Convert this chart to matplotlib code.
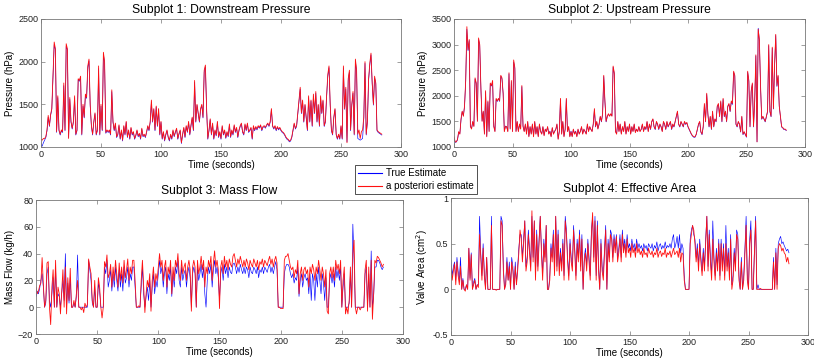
import numpy as np
import matplotlib
matplotlib.use("Agg")
import matplotlib.pyplot as plt

plt.rcParams['font.family'] = ['Liberation Sans', 'DejaVu Sans']

# ---------------- data (1 sample per second) ----------------
down_est = [
 1090, 1080, 1100, 1100, 1120, 1200, 1370, 1250, 1380, 1450,
 1850, 2230, 2150, 1180, 1600, 1200, 1150, 1200, 1180, 1750,
 1200, 2210, 2150, 1100, 1580, 1300, 1220, 1300, 1600, 1150,
 1200, 1800, 1780, 1830, 1150, 1500, 1350, 1620, 1580, 1950,
 2030, 1500, 1250, 1150, 1300, 1400, 1150, 1200, 1950, 1150,
 1500, 1200, 2110, 2000, 1170, 1200, 1180, 1200, 1150, 1670,
 1300, 1200, 1280, 1120, 1150, 1260, 1100, 1200, 1080, 1250,
 1150, 1300, 1120, 1200, 1100, 1230, 1150, 1180, 1100, 1140,
 1200, 1130, 1160, 1100, 1220, 1130, 1150, 1120, 1180, 1250,
 1200, 1300, 1550, 1300, 1450, 1200, 1480, 1250, 1450, 1150,
 1300, 1100, 1180, 1080, 1150, 1200, 1120, 1080, 1150, 1100,
 1200, 1130, 1180, 1220, 1100, 1160, 1200, 1050, 1150, 1230,
 1120, 1250, 1180, 1300, 1150, 1260, 1350, 1200, 1780, 1300,
 1500, 1400, 1300, 1450, 1500, 1350, 1900, 1960, 1450, 1100,
 1200, 1330, 1150, 1280, 1100, 1200, 1140, 1300, 1120, 1180,
 1100, 1250, 1150, 1200, 1110, 1180, 1130, 1270, 1120, 1200,
 1150, 1260, 1180, 1230, 1120, 1200, 1250, 1280, 1180, 1150,
 1270, 1200, 1280, 1180, 1200, 1230, 1100, 1250, 1200, 1240,
 1210, 1250, 1230, 1260, 1200, 1240, 1250, 1230, 1260, 1280,
 1250, 1300, 1450, 1250, 1220, 1250, 1200, 1240, 1210, 1230,
 1200, 1180, 1170, 1150, 1120, 1100, 1090, 1070, 1080, 1120,
 1200, 1280, 1220, 1250, 1400, 1550, 1700, 1400, 1550, 1300,
 1500, 1350, 1200, 1600, 1300, 1550, 1250, 1620, 1400, 1650,
 1300, 1500, 1250, 1600, 1400, 1550, 1250, 1300, 1600, 1850,
 1950, 1500, 1200, 1150, 1350, 1450, 1150, 1100, 1150, 1100,
 1250, 1100, 1950, 1450, 1700, 1050, 1800, 1900, 1200, 1500,
 1650, 1150, 2030, 1900, 1150, 1200, 1100, 1180, 1200, 1350,
 2000, 1150, 1300, 1800, 1980, 2100, 1750, 1500, 1830, 1750,
 1200, 1180, 1170, 1160, 1150]

down_true = [
 1020, 1010, 1050, 1080, 1110, 1190, 1350, 1240, 1370, 1440,
 1830, 2200, 2140, 1170, 1580, 1190, 1140, 1190, 1170, 1720,
 1190, 2180, 2140, 1110, 1560, 1290, 1210, 1290, 1580, 1140,
 1190, 1790, 1770, 1820, 1140, 1480, 1340, 1600, 1570, 1930,
 2010, 1480, 1240, 1140, 1290, 1390, 1140, 1190, 1920, 1140,
 1480, 1190, 2090, 1980, 1160, 1190, 1170, 1190, 1140, 1650,
 1290, 1190, 1270, 1110, 1140, 1250, 1090, 1190, 1070, 1240,
 1140, 1290, 1110, 1190, 1090, 1220, 1140, 1170, 1090, 1130,
 1190, 1120, 1150, 1090, 1210, 1120, 1140, 1110, 1170, 1240,
 1190, 1290, 1530, 1290, 1440, 1190, 1470, 1240, 1440, 1140,
 1290, 1090, 1170, 1070, 1140, 1190, 1110, 1070, 1140, 1090,
 1190, 1120, 1170, 1210, 1090, 1150, 1190, 1040, 1140, 1220,
 1110, 1240, 1170, 1290, 1140, 1250, 1340, 1190, 1760, 1290,
 1490, 1390, 1290, 1440, 1490, 1340, 1880, 1940, 1440, 1090,
 1190, 1320, 1140, 1270, 1090, 1190, 1130, 1290, 1110, 1170,
 1090, 1240, 1140, 1190, 1100, 1170, 1120, 1260, 1110, 1190,
 1140, 1250, 1170, 1220, 1110, 1190, 1240, 1270, 1170, 1140,
 1260, 1190, 1270, 1170, 1190, 1220, 1090, 1240, 1190, 1230,
 1200, 1240, 1220, 1250, 1190, 1230, 1240, 1220, 1250, 1270,
 1240, 1290, 1440, 1240, 1210, 1240, 1190, 1230, 1200, 1220,
 1190, 1170, 1160, 1140, 1110, 1090, 1080, 1060, 1070, 1110,
 1190, 1270, 1210, 1240, 1390, 1540, 1680, 1390, 1540, 1290,
 1490, 1340, 1190, 1580, 1290, 1540, 1240, 1600, 1390, 1630,
 1290, 1490, 1240, 1580, 1390, 1540, 1240, 1290, 1580, 1830,
 1930, 1490, 1190, 1140, 1340, 1440, 1140, 1090, 1140, 1090,
 1240, 1090, 1930, 1440, 1680, 1060, 1780, 1880, 1190, 1490,
 1630, 1140, 2010, 1880, 1100, 1090, 1080, 1090, 1100, 1330,
 1980, 1140, 1290, 1780, 1960, 2080, 1740, 1490, 1810, 1740,
 1190, 1170, 1160, 1150, 1140]

up_est = [
 1200, 1100, 1100, 1150, 1300, 1250, 1550, 1700, 1600, 1800,
 2300, 3350, 2900, 3100, 1400, 1350, 1500, 1400, 2350, 2250,
 1500, 3130, 3000, 2150, 1500, 1700, 1250, 2100, 1200, 1900,
 1300, 2250, 2200, 2300, 1400, 1300, 1950, 1900, 1950, 1900,
 2400, 2350, 2050, 1300, 1400, 1400, 1300, 2450, 1350, 2300,
 1300, 2700, 2550, 1300, 1500, 1300, 1450, 1350, 2200, 1400,
 1300, 1450, 1250, 1500, 1200, 1400, 1250, 1450, 1200, 1500,
 1250, 1400, 1200, 1450, 1300, 1250, 1400, 1220, 1350, 1300,
 1400, 1250, 1300, 1200, 1380, 1250, 1300, 1350, 1450, 1150,
 1300, 1950, 1250, 1500, 1200, 1350, 1950, 1300, 1400, 1200,
 1300, 1200, 1350, 1250, 1300, 1200, 1350, 1250, 1300, 1400,
 1250, 1350, 1300, 1250, 1450, 1300, 1400, 1350, 1300, 1450,
 1750, 1400, 1500, 1350, 1450, 1600, 1500, 1650, 2400, 1900,
 1500, 1600, 1650, 1600, 1650, 1600, 2580, 2450, 1300, 1250,
 1500, 1300, 1450, 1250, 1400, 1300, 1500, 1250, 1400, 1300,
 1450, 1250, 1400, 1300, 1450, 1280, 1350, 1300, 1400, 1300,
 1350, 1450, 1300, 1400, 1350, 1500, 1300, 1450, 1350, 1500,
 1550, 1400, 1350, 1500, 1450, 1350, 1450, 1400, 1300, 1500,
 1450, 1350, 1500, 1400, 1450, 1500, 1350, 1450, 1400, 1500,
 1600, 1700, 1450, 1400, 1500, 1450, 1400, 1500, 1450, 1480,
 1400, 1350, 1300, 1250, 1220, 1200, 1200, 1250, 1350, 1450,
 1500, 1300, 1250, 1400, 1850, 1500, 2050, 1650, 1400, 1600,
 1350, 1700, 1400, 1550, 1500, 1800, 1850, 1600, 1900, 1500,
 1950, 1600, 1700, 1500, 1800, 1850, 1700, 1900, 1850, 2480,
 2400, 1450, 1400, 1500, 1450, 1300, 1600, 1250, 1300, 1250,
 1200, 2480, 2300, 1400, 2100, 2250, 1400, 1900, 2800, 1100,
 3300, 3100, 2200, 1550, 1600, 1550, 1500, 1600, 1700, 3000,
 1700, 1600, 2950, 1750, 2600, 3200, 2200, 2400, 1800, 1600,
 1400, 1380, 1350, 1350, 1330]

up_true = [
 1180, 1090, 1100, 1140, 1290, 1260, 1530, 1690, 1610, 1790,
 2280, 3300, 2880, 3080, 1410, 1360, 1490, 1410, 2330, 2240,
 1510, 3100, 2980, 2140, 1510, 1690, 1260, 2080, 1210, 1880,
 1310, 2230, 2190, 2280, 1410, 1310, 1930, 1890, 1940, 1890,
 2380, 2330, 2040, 1310, 1410, 1390, 1310, 2430, 1360, 2280,
 1310, 2660, 2530, 1310, 1490, 1310, 1440, 1360, 2180, 1410,
 1310, 1440, 1260, 1490, 1210, 1390, 1260, 1440, 1210, 1490,
 1260, 1390, 1210, 1440, 1310, 1260, 1390, 1230, 1340, 1310,
 1390, 1260, 1310, 1210, 1370, 1260, 1310, 1340, 1440, 1160,
 1310, 1930, 1260, 1490, 1210, 1340, 1930, 1310, 1390, 1210,
 1310, 1210, 1340, 1260, 1310, 1210, 1340, 1260, 1310, 1390,
 1260, 1340, 1310, 1260, 1440, 1310, 1390, 1340, 1310, 1440,
 1730, 1390, 1490, 1360, 1440, 1590, 1490, 1640, 2380, 1880,
 1490, 1590, 1640, 1610, 1640, 1610, 2560, 2430, 1310, 1260,
 1490, 1310, 1440, 1260, 1390, 1310, 1490, 1260, 1390, 1310,
 1440, 1260, 1390, 1310, 1440, 1290, 1340, 1310, 1390, 1310,
 1340, 1440, 1310, 1390, 1340, 1490, 1310, 1440, 1340, 1490,
 1540, 1390, 1340, 1490, 1440, 1340, 1440, 1390, 1310, 1490,
 1440, 1340, 1490, 1390, 1440, 1490, 1340, 1440, 1390, 1490,
 1590, 1690, 1440, 1390, 1490, 1440, 1390, 1490, 1440, 1470,
 1390, 1340, 1290, 1240, 1210, 1190, 1190, 1240, 1340, 1440,
 1490, 1290, 1240, 1390, 1830, 1490, 2030, 1640, 1390, 1590,
 1340, 1690, 1390, 1540, 1490, 1790, 1830, 1590, 1880, 1490,
 1930, 1590, 1690, 1490, 1790, 1830, 1690, 1880, 1830, 2460,
 2380, 1440, 1390, 1490, 1440, 1290, 1590, 1240, 1290, 1240,
 1190, 2460, 2280, 1390, 2080, 2230, 1390, 1880, 2780, 1100,
 3320, 3080, 2180, 1540, 1590, 1540, 1490, 1590, 1690, 2980,
 1690, 1590, 2930, 1740, 2580, 3180, 2180, 2380, 1790, 1590,
 1390, 1370, 1340, 1340, 1320]

flow_est = [
 15, 10, 12, 16, 18, 37, 17, 0, 5, 33,
 34, 0, -13, 15, 28, 0, 35, 0, 15, 10,
 -5, 12, 28, 0, 30, -5, 22, 5, 29, 0,
 0, 5, 0, 10, 20, 0, 0, -2, 0, -4,
 3, 0, 2, 36, 30, 25, 5, 0, 20, 0,
 0, 22, 15, 0, -8, 0, 34, 30, 39, 22,
 25, 32, 15, 30, 20, 35, 25, 15, 33, 20,
 30, 18, 35, 22, 28, 36, 20, 30, 25, 35,
 35, 20, 0, 0, 1, 0, 20, 35, 15, -4,
 10, 20, 15, 25, -3, 20, 30, 15, 25, 20,
 30, 40, 30, 35, 20, 30, 35, 15, 30, 25,
 35, 10, 30, 20, 35, 30, 40, 25, 20, 35,
 25, 30, 33, 20, 30, 35, 28, -3, 30, 35,
 30, 0, 35, 25, 30, 38, 28, 35, 15, 30,
 25, 35, 30, 38, 20, 33, 42, 30, 35, 28,
 -1, 30, 35, 25, 38, 30, 35, 28, 36, 32,
 30, 38, 40, 35, 30, 36, 32, 38, 34, 30,
 35, 30, 36, 33, 28, 35, 32, 30, 36, 33,
 30, 35, 28, 34, 32, 36, 30, 35, 33, 31,
 35, 38, 32, 36, 30, 35, 38, 33, 0, 0,
 -1, -1, -1, 35, 38, 38, 40, 35, 30, 28,
 30, 22, 28, 25, 35, 10, 25, 30, 20, 28,
 30, 25, 28, 15, 30, 25, 32, 28, 20, 30,
 25, 35, 28, 20, 30, 25, 15, 28, -3, -5,
 25, 30, 22, 30, 20, 35, 28, 32, 25, 35,
 0, 20, 30, -5, 0, -5, 5, 30, 0, 40,
 50, 0, -5, 0, 0, -2, 0, 0, 0, 28,
 35, -3, 30, 0, 35, -9, 10, 35, 33, 38,
 37, 35, 33, 30, 32]

flow_true = [
 8, 12, 10, 14, 20, 25, 15, 0, 3, 25,
 30, 5, 0, 10, 22, 0, 30, 0, 10, 8,
 0, 10, 20, 5, 40, 0, 18, 3, 22, 0,
 0, 3, 0, 8, 39, 0, 0, 0, 0, 0,
 0, 0, 0, 35, 28, 20, 3, 0, 15, 0,
 0, 18, 12, 0, 0, 0, 30, 25, 35, 15,
 20, 28, 12, 25, 15, 30, 20, 12, 28, 15,
 25, 12, 30, 18, 22, 30, 15, 25, 20, 30,
 30, 15, 0, 0, 0, 0, 15, 30, 10, 0,
 8, 15, 5, 20, 0, 15, 25, 10, 20, 15,
 25, 35, 25, 30, 15, 25, 30, 10, 25, 20,
 30, 8, 25, 15, 30, 25, 35, 20, 15, 30,
 20, 25, 28, 15, 25, 30, 22, 0, 25, 30,
 25, 0, 30, 20, 25, 32, 22, 30, 10, 0,
 20, 30, 25, 32, 15, 28, 35, 25, 30, 22,
 5, 25, 30, 20, 32, 25, 30, 22, 30, 26,
 25, 32, 33, 30, 25, 30, 26, 32, 28, 25,
 30, 25, 30, 28, 22, 30, 26, 25, 30, 28,
 25, 30, 22, 28, 26, 30, 25, 30, 28, 26,
 30, 32, 26, 30, 25, 30, 34, 28, 0, 0,
 0, 0, 0, 25, 30, 32, 32, 30, 25, 22,
 25, 18, 22, 20, 30, 8, 20, 25, 15, 22,
 25, 20, 22, 10, 25, 5, 25, 20, 5, 25,
 15, 30, 20, 10, 25, 18, 5, 22, 0, 0,
 20, 25, 18, 25, 15, 30, 22, 28, 20, 30,
 0, 15, 25, 0, 0, 0, 3, 25, 0, 62,
 35, 0, 0, 0, 0, 0, 0, 0, 0, 25,
 30, 0, 25, 0, 42, 0, 8, 30, 30, 35,
 35, 33, 30, 28, 30]

area_est = [
 0.25, 0.10, 0.20, 0.28, 0.05, 0.30, 0.15, 0.05, 0.25, 0.00,
 0.10, 0.00, -0.02, 0.05, 0.00, 0.45, 0.10, 0.38, 0.00, 0.05,
 0.10, 0.00, 0.05, 0.02, 0.60, 0.35, 0.10, 0.45, 0.15, 0.00,
 0.35, 0.00, 0.00, 0.00, 0.70, 0.00, 0.00, 0.00, -0.01, 0.00,
 0.00, 0.00, 0.75, 0.70, 0.20, 0.00, 0.05, 0.30, 0.10, 0.25,
 0.00, 0.30, 0.20, 0.00, 0.25, 0.05, 0.20, 0.40, 0.65, 0.55,
 0.30, 0.50, 0.75, 0.20, 0.30, 0.60, 0.40, 0.20, 0.86, 0.30,
 0.75, 0.10, 0.60, 0.20, 0.50, 0.80, 0.40, 0.10, 0.50, 0.30,
 0.70, 0.00, 0.00, 0.10, 0.45, 0.30, 0.60, 0.15, 0.80, 0.20,
 0.60, 0.15, 0.40, 0.20, 0.50, 0.10, 0.75, 0.60, 0.30, 0.10,
 0.50, 0.30, 0.20, 0.65, 0.40, 0.10, 0.50, 0.30, 0.60, 0.20,
 0.55, 0.00, 0.30, 0.40, 0.20, 0.50, 0.30, 0.10, 0.60, 0.84,
 0.30, 0.75, 0.10, 0.70, 0.20, 0.00, 0.50, 0.20, 0.10, 0.40,
 0.65, 0.00, 0.50, 0.30, 0.60, 0.55, 0.30, 0.55, 0.40, 0.58,
 0.30, 0.40, 0.55, 0.30, 0.60, 0.40, 0.50, 0.35, 0.55, 0.40,
 0.45, 0.35, 0.50, 0.40, 0.45, 0.35, 0.50, 0.40, 0.45, 0.38,
 0.42, 0.35, 0.45, 0.38, 0.40, 0.35, 0.45, 0.40, 0.38, 0.42,
 0.35, 0.40, 0.38, 0.45, 0.35, 0.40, 0.42, 0.36, 0.40, 0.38,
 0.45, 0.35, 0.40, 0.38, 0.42, 0.35, 0.40, 0.45, 0.38, 0.40,
 0.42, 0.35, 0.45, 0.30, 0.40, 0.38, 0.10, 0.00, 0.00, 0.00,
 0.00, 0.50, 0.60, 0.70, 0.65, 0.50, 0.30, 0.45, 0.20, 0.50,
 0.30, 0.15, 0.40, 0.20, 0.50, 0.80, 0.20, 0.60, 0.30, 0.10,
 0.55, 0.30, 0.10, 0.40, 0.20, 0.50, 0.10, 0.50, 0.20, 0.45,
 0.10, 0.50, 0.20, 0.40, 0.10, 0.55, 0.00, 0.10, 0.40, 0.20,
 0.60, 0.55, 0.10, 0.00, 0.30, 0.00, 0.10, 0.40, 0.70, 0.10,
 0.00, 0.50, 0.65, 0.00, 0.00, 0.40, 0.75, 0.00, 0.00, 0.00,
 0.01, 0.00, 0.00, 0.00, 0.00, 0.00, 0.00, 0.00, 0.00, 0.00,
 0.00, 0.30, 0.00, 0.40, 0.00, 0.45, 0.50, 0.48, 0.42, 0.45,
 0.40, 0.38, 0.30, 0.35, 0.28]

area_true = [
 0.32, 0.15, 0.25, 0.30, 0.10, 0.35, 0.20, 0.10, 0.35, 0.00,
 0.12, 0.00, 0.00, 0.05, 0.00, 0.45, 0.12, 0.40, 0.00, 0.08,
 0.12, 0.00, 0.05, 0.05, 0.80, 0.40, 0.15, 0.50, 0.20, 0.00,
 0.35, 0.00, 0.00, 0.00, 0.80, 0.00, 0.00, 0.00, 0.00, 0.00,
 0.00, 0.00, 0.80, 0.75, 0.25, 0.00, 0.08, 0.35, 0.10, 0.30,
 0.00, 0.35, 0.25, 0.00, 0.30, 0.05, 0.25, 0.45, 0.60, 0.60,
 0.35, 0.55, 0.75, 0.25, 0.35, 0.65, 0.45, 0.25, 0.80, 0.35,
 0.75, 0.15, 0.65, 0.25, 0.55, 0.80, 0.45, 0.15, 0.55, 0.35,
 0.70, 0.00, 0.00, 0.15, 0.50, 0.35, 0.65, 0.20, 0.80, 0.25,
 0.65, 0.20, 0.45, 0.25, 0.55, 0.15, 0.80, 0.65, 0.35, 0.15,
 0.55, 0.35, 0.25, 0.70, 0.45, 0.15, 0.55, 0.35, 0.65, 0.25,
 0.60, 0.00, 0.35, 0.45, 0.25, 0.55, 0.35, 0.15, 0.65, 0.80,
 0.35, 0.80, 0.15, 0.75, 0.25, 0.00, 0.55, 0.25, 0.15, 0.45,
 0.70, 0.00, 0.55, 0.35, 0.65, 0.60, 0.35, 0.60, 0.45, 0.60,
 0.35, 0.45, 0.60, 0.35, 0.65, 0.45, 0.55, 0.40, 0.60, 0.45,
 0.50, 0.42, 0.55, 0.45, 0.50, 0.42, 0.55, 0.45, 0.50, 0.45,
 0.48, 0.42, 0.50, 0.45, 0.48, 0.42, 0.50, 0.47, 0.45, 0.50,
 0.42, 0.48, 0.45, 0.52, 0.42, 0.48, 0.50, 0.44, 0.48, 0.45,
 0.52, 0.45, 0.48, 0.46, 0.50, 0.45, 0.55, 0.60, 0.45, 0.50,
 0.58, 0.45, 0.60, 0.40, 0.50, 0.45, 0.15, 0.00, 0.00, 0.00,
 0.00, 0.55, 0.65, 0.70, 0.60, 0.55, 0.35, 0.50, 0.25, 0.55,
 0.35, 0.20, 0.45, 0.25, 0.55, 0.80, 0.25, 0.65, 0.35, 0.15,
 0.75, 0.35, 0.15, 0.45, 0.25, 0.55, 0.15, 0.55, 0.25, 0.50,
 0.15, 0.70, 0.25, 0.45, 0.15, 0.60, 0.05, 0.15, 0.45, 0.25,
 0.65, 0.60, 0.15, 0.00, 0.35, 0.00, 0.15, 0.45, 0.80, 0.15,
 0.00, 0.55, 0.75, 0.00, 0.00, 0.45, 0.80, 0.00, 0.05, 0.00,
 0.00, 0.00, 0.00, 0.00, 0.00, 0.00, 0.00, 0.00, 0.00, 0.00,
 0.00, 0.35, 0.00, 0.45, 0.05, 0.50, 0.55, 0.58, 0.50, 0.52,
 0.48, 0.45, 0.42, 0.44, 0.40]

sample_period = 1.0
time_s = np.arange(len(down_est)) * sample_period

titles = ["Subplot 1: Downstream Pressure", "Subplot 2: Upstream Pressure",
          "Subplot 3: Mass Flow", "Subplot 4: Effective Area"]
ylabels = ["Pressure (hPa)", "Pressure (hPa)", "Mass Flow (kg/h)",
           "Valve Area (cm$^2$)"]
ylims = [(1000, 2500), (1000, 3500), (-20, 80), (-0.5, 1)]
yticks = [[1000, 1500, 2000, 2500], [1000, 1500, 2000, 2500, 3000, 3500],
          [-20, 0, 20, 40, 60, 80], [-0.5, 0, 0.5, 1]]
yticklabels = [None, None, None, ["-0.5", "0", "0.5", "1"]]
xticks = [0, 50, 100, 150, 200, 250, 300]
series = [(down_true, down_est), (up_true, up_est),
          (flow_true, flow_est), (area_true, area_est)]
legend_labels = ["True Estimate", "a posteriori estimate"]

# ---------------- figure ----------------
W, H = 814, 364
fig = plt.figure(figsize=(W / 100, H / 100), dpi=100)
boxes = [(41, 19, 401, 147), (454, 19, 805, 147),
         (36, 200, 403, 334), (451, 198, 808, 335)]

lines_for_legend = None
for i, (l, t, r, b) in enumerate(boxes):
    ax = fig.add_axes([l / W, 1 - b / H, (r - l) / W, (b - t) / H])
    tr, es = series[i]
    lb, = ax.plot(time_s, tr, color='#0000ff', lw=0.45)
    lr, = ax.plot(time_s, es, color='#ff1010', lw=0.6)
    if lines_for_legend is None:
        lines_for_legend = (lb, lr)
    ax.set_xlim(0, 300)
    ax.set_ylim(*ylims[i])
    ax.set_xticks(xticks)
    ax.set_yticks(yticks[i])
    if yticklabels[i] is not None:
        ax.set_yticklabels(yticklabels[i])
    ax.tick_params(direction='in', top=True, right=True, length=3,
                   width=0.5, labelsize=6.5, pad=2, colors='#222222')
    ax.tick_params(color='#777777')
    for s in ax.spines.values():
        s.set_linewidth(0.6)
        s.set_color('#777777')
    ax.set_title(titles[i], fontsize=8.7, pad=4)
    ax.set_xlabel("Time (seconds)", fontsize=7, labelpad=1)
    ax.set_ylabel(ylabels[i], fontsize=7, labelpad=2)

leg = fig.legend(lines_for_legend, legend_labels, loc='lower left',
                 bbox_to_anchor=(355 / W, 1 - 194 / H), fontsize=7,
                 frameon=True, fancybox=False, edgecolor='#333333',
                 framealpha=1, borderpad=0.3, labelspacing=0.3,
                 handlelength=2.5, handletextpad=0.4, borderaxespad=0)
leg.get_frame().set_linewidth(0.6)
for h in leg.get_lines():
    h.set_linewidth(0.8)

fig.savefig("out.png", dpi=100)
